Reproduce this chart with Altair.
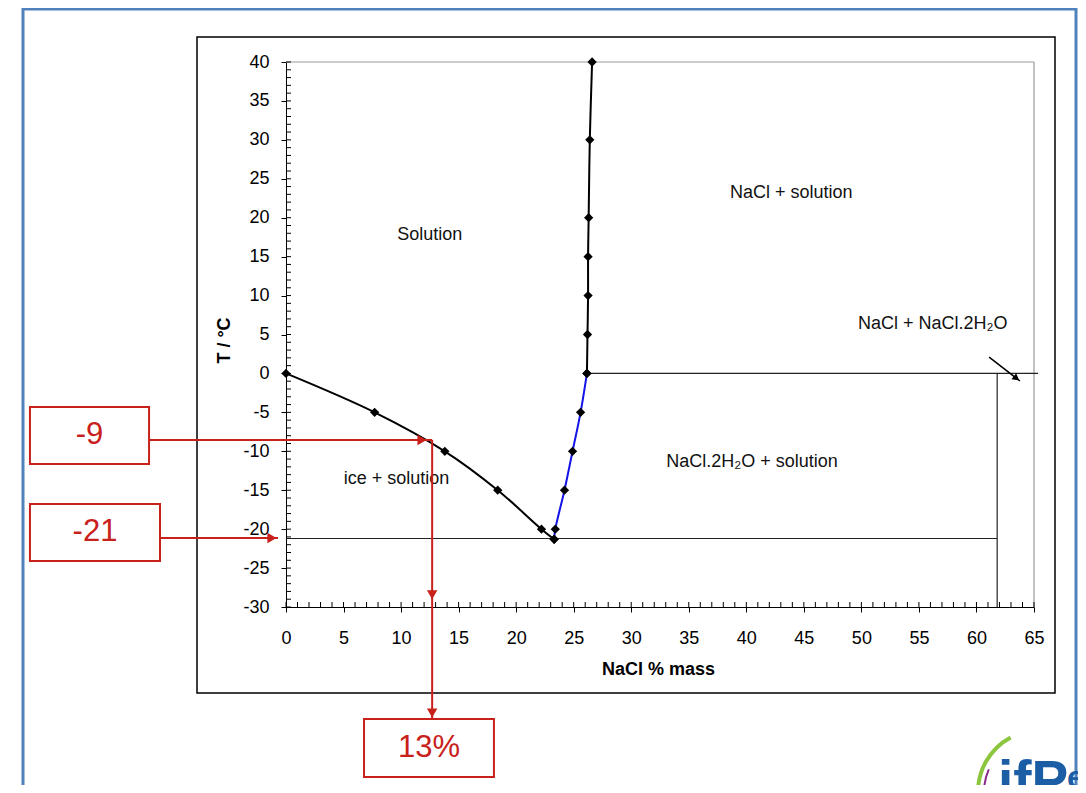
import altair as alt
import pandas as pd

# ---------------- data ----------------
# ice + solution liquidus (black)
ice_x = [0.0, 7.7, 13.8, 18.4, 22.2, 23.3]
ice_t = [0.0, -5.0, -10.0, -15.0, -20.0, -21.3]
# NaCl.2H2O liquidus (blue)
dihydrate_x = [23.3, 23.4, 24.2, 24.9, 25.6, 26.15]
dihydrate_t = [-21.3, -20.0, -15.0, -10.0, -5.0, 0.0]
# NaCl solubility (black)
nacl_x = [26.15, 26.2, 26.25, 26.25, 26.3, 26.4, 26.6]
nacl_t = [0.0, 5.0, 10.0, 15.0, 20.0, 30.0, 40.0]

# phase boundary lines (x1, t1) -> (x2, t2)
bound_x1 = [0.0, 26.15, 61.8]
bound_t1 = [-21.2, 0.0, 0.0]
bound_x2 = [61.8, 65.35, 61.8]
bound_t2 = [-21.2, 0.0, -30.0]

# plot frame (top and right, grey)
frame_x1 = [0.0, 65.0]
frame_t1 = [40.0, 40.0]
frame_x2 = [65.0, 65.0]
frame_t2 = [40.0, -30.0]

region_labels = ["Solution", "NaCl + solution", "NaCl + NaCl.2H\u2082O",
                 "NaCl.2H\u2082O + solution", "ice + solution"]
region_x = [12.5, 43.9, 56.2, 40.5, 9.6]
region_t = [17.8, 23.2, 6.35, -11.4, -13.6]

x_ticks = list(range(0, 66, 5))
t_ticks = list(range(-30, 41, 5))
x_minor = list(range(0, 66, 1))
t_minor = list(range(-30, 41, 1))

# red reading annotation
box_labels = ["-9", "-21", "13%"]
box_x1 = [-22.25, -22.25, 6.78]
box_x2 = [-11.9, -10.95, 18.07]
box_t1 = [-4.31, -16.77, -44.38]
box_t2 = [-11.63, -24.09, -51.83]

seg_x1 = [-11.9, 12.7, -10.95]
seg_t1 = [-8.55, -8.55, -21.14]
seg_x2 = [12.7, 12.7, -0.7]
seg_t2 = [-8.55, -44.38, -21.14]

head_right_x = [12.34, -0.7]
head_right_t = [-8.55, -21.14]
head_down_x = [12.7, 12.7]
head_down_t = [-29.2, -44.38]

# black pointer arrow to the NaCl + NaCl.2H2O region
ptr_x1 = [61.1]
ptr_t1 = [2.1]
ptr_x2 = [63.78]
ptr_t2 = [-0.97]

# ---------------- chart ----------------
W, H = 748, 545
FONT = "Liberation Sans"
RED = "#c8201a"

xs = alt.Scale(domain=[0, 65], nice=False, zero=False)
ys = alt.Scale(domain=[-30, 40], nice=False, zero=False)

x_axis = alt.Axis(values=x_ticks, labelExpr="'' + datum.value", tickSize=5,
                  tickColor="black", domainColor="black", labelFont=FONT,
                  labelFontSize=18, labelColor="black", labelPadding=17,
                  labelFlush=False, labelOverlap=False,
                  grid=False, title="NaCl % mass", titleFont=FONT,
                  titleFontSize=18, titleFontWeight="bold", titleColor="black",
                  titleX=372, titleY=62, titleBaseline="middle", titleAlign="center")
y_axis = alt.Axis(values=t_ticks, labelExpr="'' + datum.value", tickSize=5,
                  tickColor="black", domainColor="black", labelFont=FONT,
                  labelFontSize=18, labelColor="black", labelPadding=12,
                  labelFlush=False, labelOverlap=False,
                  grid=False, title="T / °C", titleFont=FONT, titleFontSize=18,
                  titleFontWeight="bold", titleColor="black", titleX=-62,
                  titleY=278, titleBaseline="middle", titleAlign="center",
                  titleAngle=270)


def X(f="x"):
    return alt.X(f"{f}:Q", scale=xs, axis=x_axis)


def Y(f="t"):
    return alt.Y(f"{f}:Q", scale=ys, axis=y_axis)


one = pd.DataFrame({"k": [0]})

# decorations (slide frame, chart frame)
blue = "#4f81bd"
blue_top = alt.Chart(one).mark_rule(color=blue, strokeWidth=3).encode(
    x=alt.value(-263), x2=alt.value(791), y=alt.value(-53))
blue_left = alt.Chart(one).mark_rule(color=blue, strokeWidth=3).encode(
    x=alt.value(-263), y=alt.value(-54), y2=alt.value(723))
blue_right = alt.Chart(one).mark_rule(color=blue, strokeWidth=3).encode(
    x=alt.value(790), y=alt.value(-54), y2=alt.value(723))
chart_frame = alt.Chart(one).mark_rect(fillOpacity=0, stroke="black", strokeWidth=1.5).encode(
    x=alt.value(-89), x2=alt.value(769), y=alt.value(-25), y2=alt.value(631))

frame_df = pd.DataFrame({"x": frame_x1, "t": frame_t1, "x2": frame_x2, "t2": frame_t2})
frame = alt.Chart(frame_df).mark_rule(color="#9a9a9a", strokeWidth=1.2).encode(
    x=X(), y=Y(), x2="x2:Q", y2="t2:Q")

ytick = alt.Chart(pd.DataFrame({"t": t_minor})).mark_rule(color="black", strokeWidth=1).encode(
    y=Y(), x=alt.value(0), x2=alt.value(5))
xtick = alt.Chart(pd.DataFrame({"x": x_minor})).mark_rule(color="black", strokeWidth=1).encode(
    x=X(), y=alt.value(H), y2=alt.value(H - 5))

bound_df = pd.DataFrame({"x": bound_x1, "t": bound_t1, "x2": bound_x2, "t2": bound_t2})
bounds = alt.Chart(bound_df).mark_rule(color="#222222", strokeWidth=1.2).encode(
    x=X(), y=Y(), x2="x2:Q", y2="t2:Q")

curves = pd.DataFrame({
    "x": ice_x + dihydrate_x + nacl_x,
    "t": ice_t + dihydrate_t + nacl_t,
    "series": ["ice"] * len(ice_x) + ["dihydrate"] * len(dihydrate_x) + ["nacl"] * len(nacl_x),
    "i": list(range(len(ice_x))) + list(range(len(dihydrate_x))) + list(range(len(nacl_x))),
})
curves["c"] = curves["series"].map({"ice": "black", "dihydrate": "#1414e6", "nacl": "black"})

lines = alt.Chart(curves).mark_line(strokeWidth=2, interpolate="catmull-rom").encode(
    x=X(), y=Y(), detail="series:N", color=alt.Color("c:N", scale=None), order="i:Q")
points = alt.Chart(curves).mark_point(shape="diamond", filled=True, size=86,
                                      color="black", opacity=1).encode(x=X(), y=Y())

reg_df = pd.DataFrame({"label": region_labels, "x": region_x, "t": region_t})
regions = alt.Chart(reg_df).mark_text(font=FONT, fontSize=18, color="#111111",
                                      align="center", baseline="middle").encode(
    x=X(), y=Y(), text="label:N")

# red annotation
seg_df = pd.DataFrame({"x": seg_x1, "t": seg_t1, "x2": seg_x2, "t2": seg_t2})
segs = alt.Chart(seg_df).mark_rule(color=RED, strokeWidth=2).encode(
    x=X(), y=Y(), x2="x2:Q", y2="t2:Q")
heads_r = alt.Chart(pd.DataFrame({"x": head_right_x, "t": head_right_t})).mark_point(
    shape="triangle-right", filled=True, size=110, color=RED, opacity=1, xOffset=-6).encode(
    x=X(), y=Y())
heads_d = alt.Chart(pd.DataFrame({"x": head_down_x, "t": head_down_t})).mark_point(
    shape="triangle-down", filled=True, size=110, color=RED, opacity=1, yOffset=-6).encode(
    x=X(), y=Y())

box_df = pd.DataFrame({"label": box_labels, "x": box_x1, "x2": box_x2, "t": box_t1, "t2": box_t2})
box_df["cx"] = (box_df["x"] + box_df["x2"]) / 2
box_df["ct"] = (box_df["t"] + box_df["t2"]) / 2
boxes = alt.Chart(box_df).mark_rect(fill="white", stroke=RED, strokeWidth=2).encode(
    x=X(), x2="x2:Q", y=Y(), y2="t2:Q")
box_text = alt.Chart(box_df).mark_text(font=FONT, fontSize=31, color=RED,
                                       align="center", baseline="middle").encode(
    x=X("cx"), y=Y("ct"), text="label:N")

ptr_df = pd.DataFrame({"x": ptr_x1, "t": ptr_t1, "x2": ptr_x2, "t2": ptr_t2})
ptr = alt.Chart(ptr_df).mark_rule(color="black", strokeWidth=1.5).encode(
    x=X(), y=Y(), x2="x2:Q", y2="t2:Q")
ptr_head = alt.Chart(ptr_df).mark_point(shape="triangle-right", filled=True, size=60,
                                        color="black", opacity=1, angle=38,
                                        xOffset=-3.5, yOffset=-2.7).encode(
    x=X("x2"), y=Y("t2"))

# partial logo in the corner
logo_arc = alt.Chart(one).mark_arc(radius=64, radius2=60, theta=4.68, theta2=5.79,
                                   color="#8cc63f").encode(x=alt.value(754), y=alt.value(730))
logo_arc2 = alt.Chart(one).mark_arc(radius=57, radius2=55, theta=4.68, theta2=5.13,
                                    color="#8b2a8b").encode(x=alt.value(754), y=alt.value(730))
logo_txt = alt.Chart(one).mark_text(text="ifP", font=FONT, fontSize=55, fontWeight="bold",
                                    color="#1b5ea6", align="left", baseline="alphabetic").encode(
    x=alt.value(712), y=alt.value(737))
logo_e = alt.Chart(one).mark_text(text="e", font=FONT, fontSize=32, fontWeight="bold",
                                  color="#1b5ea6", align="left", baseline="alphabetic").encode(
    x=alt.value(781), y=alt.value(726))

chart = alt.layer(
    blue_top, blue_left, blue_right, chart_frame,
    frame, ytick, xtick, bounds, lines, points, regions,
    segs, heads_r, heads_d, boxes, box_text, ptr, ptr_head,
    logo_arc, logo_arc2, logo_txt, logo_e,
).properties(
    width=W, height=H,
    padding={"left": 278, "top": 54, "right": 44, "bottom": 178},
    autosize=alt.AutoSizeParams(type="none"),
    background="white",
).configure_view(strokeWidth=0)

chart.save("out.html", embed_options={"renderer": "svg", "actions": False})
